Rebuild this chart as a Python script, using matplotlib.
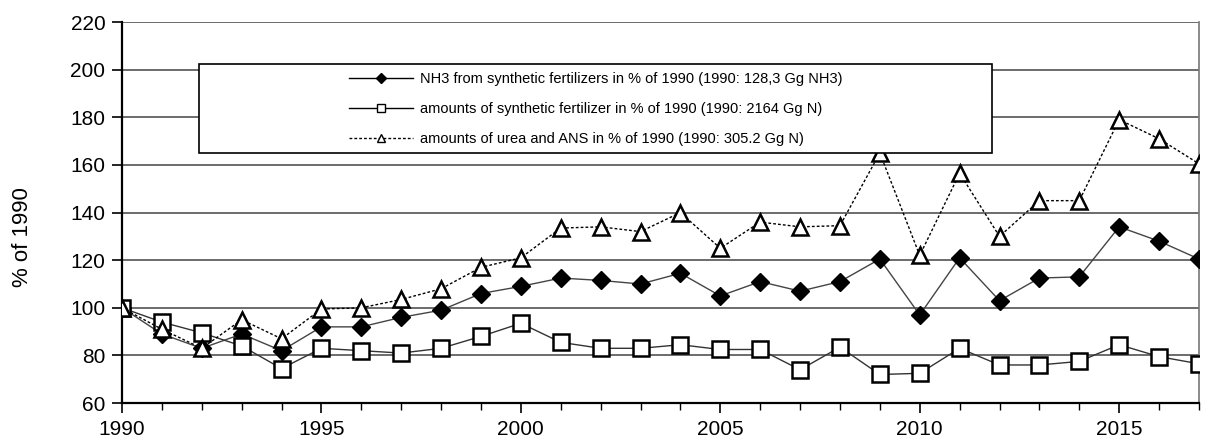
import matplotlib
matplotlib.use("Agg")
import matplotlib.pyplot as plt
from matplotlib.patches import Rectangle
from matplotlib.ticker import MultipleLocator

plt.rcParams['font.family'] = ['Liberation Sans', 'DejaVu Sans']

years = list(range(1990, 2018))

nh3 = [100, 89, 83, 89, 82, 92, 92, 96, 99, 106, 109, 112.5, 111.5, 110,
       114.5, 105, 111, 107, 111, 120.5, 97, 121, 103, 112.5, 113, 134,
       128, 120.5]
fert = [100, 94, 89.5, 84, 74.5, 83, 82, 81, 83, 88, 93.5, 85.5, 83, 83,
        84.5, 82.5, 82.5, 74, 83.5, 72, 72.5, 83, 76, 76, 77.5, 84.5,
        79.5, 76.5]
urea = [100, 91, 83, 95, 87, 99.5, 100, 103.5, 108, 117, 121, 133.5, 134,
        132, 140, 125, 136, 134, 134.5, 165, 122, 156.5, 130, 145, 145,
        179, 171, 160.5]

labels = ['NH3 from synthetic fertilizers in % of 1990 (1990: 128,3 Gg NH3)',
          'amounts of synthetic fertilizer in % of 1990 (1990: 2164 Gg N)',
          'amounts of urea and ANS in % of 1990 (1990: 305.2 Gg N)']

fig = plt.figure(figsize=(12.08, 4.41), dpi=100)
ax = fig.add_axes([0.101, 0.086, 0.8915, 0.864])

grid_col = '#444444'
for y in range(60, 221, 20):
    ax.axhline(y, color=grid_col, lw=1.1, zorder=1)

ax.plot(years, nh3, color='#444444', lw=1, marker='D', ms=9,
        mfc='black', mec='black', zorder=4)
ax.plot(years, fert, color='#333333', lw=1, marker='s', ms=11,
        mfc='white', mec='black', mew=1.8, zorder=4)
ax.plot(years, urea, color='black', lw=1, ls=(0, (2, 1.5)), marker='^',
        ms=11, mfc='white', mec='black', mew=1.8, zorder=4)

ax.set_xlim(1990, 2017)
ax.set_ylim(60, 220)
ax.xaxis.set_major_locator(MultipleLocator(5))
ax.xaxis.set_minor_locator(MultipleLocator(1))
ax.yaxis.set_major_locator(MultipleLocator(20))
ax.tick_params(axis='both', which='major', labelsize=15, length=7,
               width=1.2, color='black', direction='out')
ax.tick_params(axis='x', which='minor', length=5, width=1, direction='out')
ax.tick_params(axis='x', pad=5)
ax.tick_params(axis='y', pad=5)
ax.set_ylabel('% of 1990', fontsize=16)
ax.yaxis.set_label_coords(-0.083, 0.436)

for s in ['left', 'bottom']:
    ax.spines[s].set_color('black')
    ax.spines[s].set_linewidth(1.6)
ax.spines['right'].set_color('#777777')
ax.spines['right'].set_linewidth(1.2)
ax.spines['top'].set_visible(False)

# legend box (Excel style, wider than its contents)
box = Rectangle((0.0715, 0.656), 0.736, 0.234, transform=ax.transAxes,
                facecolor='white', edgecolor='black', lw=1.2, zorder=5)
ax.add_patch(box)

h1, = ax.plot([], [], color='black', lw=1, marker='D', ms=5, mfc='black',
              mec='black')
h2, = ax.plot([], [], color='black', lw=1, marker='s', ms=6, mfc='white',
              mec='black')
h3, = ax.plot([], [], color='black', lw=1, ls=(0, (2, 1.5)), marker='^',
              ms=6, mfc='white', mec='black')
leg = ax.legend([h1, h2, h3], labels, loc='center left',
                bbox_to_anchor=(0.2108, 0.772), frameon=False, fontsize=10.5,
                handlelength=4.4, handletextpad=0.5, labelspacing=1.1,
                borderpad=0, borderaxespad=0)
leg.set_zorder(6)

fig.savefig('out.png', dpi=100)
